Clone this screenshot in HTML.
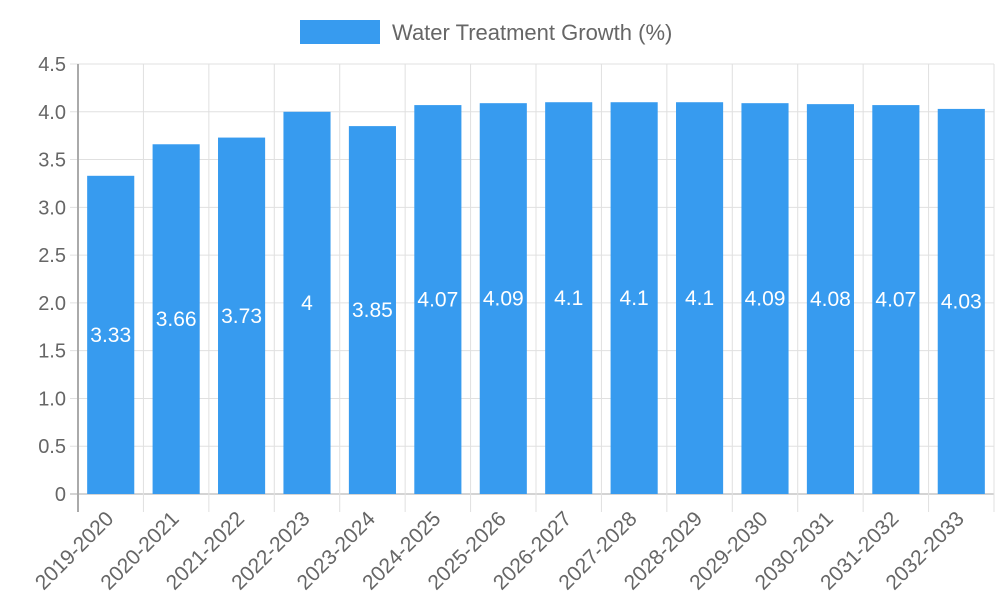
<!DOCTYPE html>
<html><head><meta charset="utf-8"><style>
body{margin:0;background:#fff;}
svg{display:block;font-family:"Liberation Sans",sans-serif;}
</style></head><body>
<svg id="chart" width="1000" height="600">
  <g id="legend">
    <rect x="300" y="20" width="80" height="24" fill="#379bef"></rect>
    <text x="392" y="40" font-size="22" fill="#666">Water Treatment Growth (%)</text>
  </g>
  <g id="grid"></g>
  <g id="bars"></g>
  <g id="labels"></g>
</svg>
<script>
const categories=["2019-2020","2020-2021","2021-2022","2022-2023","2023-2024","2024-2025","2025-2026","2026-2027","2027-2028","2028-2029","2029-2030","2030-2031","2031-2032","2032-2033"];
const values=[3.33,3.66,3.73,4,3.85,4.07,4.09,4.1,4.1,4.1,4.09,4.08,4.07,4.03];
const yTicks=[0,0.5,1,1.5,2,2.5,3,3.5,4,4.5];
const yTickLabels=["0","0.5","1.0","1.5","2.0","2.5","3.0","3.5","4.0","4.5"];
const X0=78,X1=994,Y0=494,Y1=64,YMAX=4.5;
const band=(X1-X0)/categories.length;
const y=v=>Y0-(v/YMAX)*(Y0-Y1);
const x=i=>X0+i*band;
const NS="http://www.w3.org/2000/svg";
function mk(tag,attrs,parent,txt){const e=document.createElementNS(NS,tag);for(const k in attrs)e.setAttribute(k,attrs[k]);if(txt!==undefined)e.textContent=txt;parent.appendChild(e);return e;}
const grid=document.getElementById('grid'),bars=document.getElementById('bars'),labels=document.getElementById('labels');
yTicks.forEach((t,i)=>{
  const l=mk('line',{x1:X0-8,x2:X1,y1:y(t),y2:y(t),stroke:i===0?'#aaa':'#e0e0e0','stroke-width':1},grid);
  
  
  const tx=mk('text',{x:X0-12,y:y(t)+7,'text-anchor':'end','font-size':20,fill:'#666'},grid,yTickLabels[i]);
  
  
});
for(let i=0;i<=categories.length;i++){
  const l=mk('line',{x1:x(i),x2:x(i),y1:Y1,y2:Y0+18,stroke:i===0?'#aaa':'#e0e0e0','stroke-width':i===0?2:1},grid);
  
  
}
categories.forEach((c,i)=>{
  const bw=band*0.72,bx=x(i)+(band-bw)/2;
  const r=mk('rect',{x:bx,y:y(values[i]),width:bw,height:Y0-y(values[i]),fill:'#379bef'},bars);
  
  
  const v=mk('text',{x:x(i)+band/2,y:(y(values[i])+Y0)/2+7,'text-anchor':'middle','font-size':21,fill:'#fff'},labels,String(values[i]));
  
  
  const cx=x(i)+band/2+4,cy=Y0+26;
  const t=mk('text',{x:cx,y:cy,'text-anchor':'end','font-size':21,fill:'#666',transform:`rotate(-45 ${cx} ${cy})`},labels,c);
  
  
});
</script>
</body></html>
